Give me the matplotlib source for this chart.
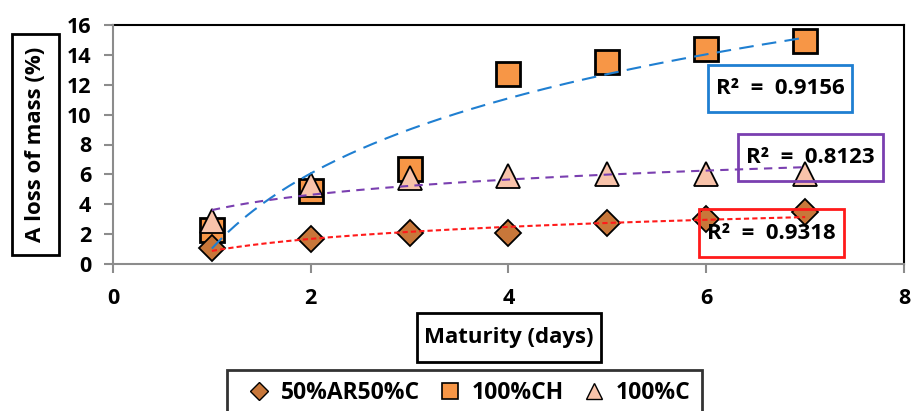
import numpy as np
import matplotlib
matplotlib.use("Agg")
import matplotlib.pyplot as plt
from matplotlib.lines import Line2D
from matplotlib.patches import Rectangle

plt.rcParams['font.family'] = ['Open Sans', 'DejaVu Sans']
plt.rcParams['font.weight'] = 'bold'

days = [1, 2, 3, 4, 5, 6, 7]
ar50_c50 = [1.05, 1.65, 2.05, 2.1, 2.75, 3.0, 3.45]
ch100 = [2.3, 4.9, 6.35, 12.75, 13.5, 14.4, 14.9]
c100 = [2.9, 5.3, 5.75, 5.9, 6.0, 6.0, 6.0]

series_names = ["50%AR50%C", "100%CH", "100%C"]
r2_labels = ["R²  =  0.9318", "R²  =  0.9156", "R²  =  0.8123"]

x_ticks = [0, 2, 4, 6, 8]
y_ticks = [0, 2, 4, 6, 8, 10, 12, 14, 16]

W, H = 912, 411
fig = plt.figure(figsize=(W / 100, H / 100), dpi=100)
ax = fig.add_axes([113 / W, 1 - 264 / H, 791 / W, 239 / H])
ax.set_xlim(0, 8)
ax.set_ylim(0, 16)

grey = "#8c8c8c"
for side in ("top", "right"):
    ax.spines[side].set_color("black")
    ax.spines[side].set_linewidth(1.5)
for side in ("left", "bottom"):
    ax.spines[side].set_color(grey)
    ax.spines[side].set_linewidth(1.5)
    ax.spines[side].set_zorder(5)

ax.set_xticks(x_ticks)
ax.set_yticks(y_ticks)
ax.tick_params(direction="out", length=6.5, width=1.5, color=grey,
               labelsize=15.5)
ax.tick_params(axis="x", pad=11)
ax.tick_params(axis="y", pad=9)
for lab in ax.get_xticklabels() + ax.get_yticklabels():
    lab.set_fontweight("bold")

x = np.array(days, dtype=float)

# markers
ax.plot(days, ch100, linestyle="none", marker="s", markersize=17,
        markerfacecolor="#F79646", markeredgecolor="black",
        markeredgewidth=2, zorder=3)
ax.plot(days, c100, linestyle="none", marker="^", markersize=17,
        markerfacecolor="#F8C3AA", markeredgecolor="black",
        markeredgewidth=1.3, zorder=4)
ax.plot(days, ar50_c50, linestyle="none", marker="D", markersize=13,
        markerfacecolor="#C8773A", markeredgecolor="black",
        markeredgewidth=1.3, zorder=4)

# logarithmic trend lines
xs = np.linspace(1, 7, 200)
def log_fit(y):
    a, b = np.polyfit(np.log(x), np.array(y, dtype=float), 1)
    return a * np.log(xs) + b

ax.plot(xs, log_fit(ch100), color="#1F7FD1", linewidth=1.5,
        dashes=(7, 4), zorder=6)
ax.plot(xs, log_fit(c100), color="#7A3FB0", linewidth=1.5,
        dashes=(4, 3), zorder=6)
ax.plot(xs, log_fit(ar50_c50), color="#FF1A1A", linewidth=1.5,
        dashes=(2.5, 1.5), zorder=6)


def framed_text(txt, x0, y0, x1, y1, edge, fill="none", rotation=0,
                size=16):
    """Text centred in a rectangle given in pixel coordinates (top-left origin)."""
    rect = Rectangle((x0 / W, 1 - y1 / H), (x1 - x0) / W, (y1 - y0) / H,
                     transform=fig.transFigure, facecolor=fill,
                     edgecolor=edge, linewidth=2, zorder=10)
    fig.add_artist(rect)
    fig.text((x0 + x1) / 2 / W, 1 - (y0 + y1) / 2 / H, txt,
             rotation=rotation, ha="center", va="center",
             fontsize=size, fontweight="bold", zorder=11)


# R² annotations
framed_text(r2_labels[1], 708, 65, 852, 112, "#1F7FD1")
framed_text(r2_labels[2], 738, 134, 883, 181, "#7A3FB0")
framed_text(r2_labels[0], 699, 209, 844, 257, "#FF1A1A")

# axis titles
framed_text("A loss of mass (%)", 12, 34, 59, 255, "black", fill="white",
            rotation=90)
framed_text("Maturity (days)", 417, 313, 601, 362, "black", fill="white")

handles = [
    Line2D([], [], linestyle="none", marker="D", markersize=9,
           markerfacecolor="#C8773A", markeredgecolor="black",
           markeredgewidth=1),
    Line2D([], [], linestyle="none", marker="s", markersize=11,
           markerfacecolor="#F79646", markeredgecolor="black",
           markeredgewidth=1.2),
    Line2D([], [], linestyle="none", marker="^", markersize=11,
           markerfacecolor="#F8C3AA", markeredgecolor="black",
           markeredgewidth=1),
]
leg = fig.legend(handles, series_names, loc="upper left",
                 bbox_to_anchor=(227 / W, 1 - 370 / H), ncol=3,
                 frameon=True, fancybox=False,
                 prop={"weight": "bold", "size": 16.5},
                 handlelength=1.8, handletextpad=0.05, columnspacing=0.4,
                 borderpad=0.5, borderaxespad=0)
leg.get_frame().set_edgecolor("black")
leg.get_frame().set_linewidth(2)

fig.savefig("out.png", dpi=100)
